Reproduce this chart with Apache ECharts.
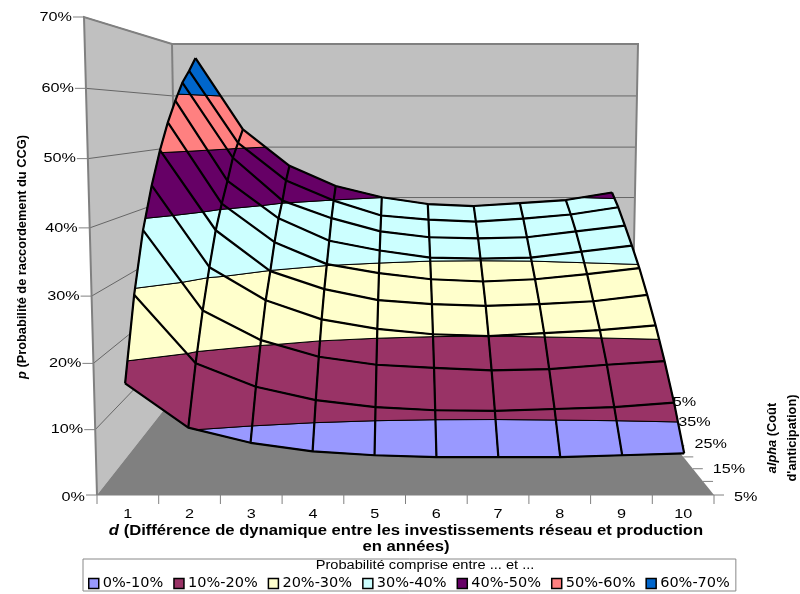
<!DOCTYPE html>
<html>
<head>
<meta charset="utf-8">
<script src="https://cdn.jsdelivr.net/npm/echarts@6/dist/echarts.min.js"></script>
<style>html,body{margin:0;padding:0;background:#fff}#c{width:800px;height:594px}</style>
</head>
<body>
<div id="c"></div>
<script>
// Categories
const dLabels = ['1','2','3','4','5','6','7','8','9','10'];
const alphaLabels = ['5%','15%','25%','35%','45%'];
const pTicks = [0,10,20,30,40,50,60,70];
const bandNames = ['0%-10%','10%-20%','20%-30%','30%-40%','40%-50%','50%-60%','60%-70%'];
const bandColors = ['#9999FF','#993366','#FFFFCC','#CCFFFF','#660066','#FF8080','#0066CC'];
// p (in %) for each alpha row, by d = 1..10
const p5  = [17.0,10.3, 8.0, 6.7, 6.1, 5.8, 5.8, 5.8, 6.1, 6.4];
const p10 = [29.1,18.5,14.8,12.7,11.6,11.1,11.0,11.3,11.6,12.3];
const p15 = [38.3,25.5,20.7,18.0,16.7,16.2,15.8,16.0,16.7,17.3];
const p20 = [44.9,31.5,26.0,22.8,21.2,20.3,20.0,20.5,21.0,21.8];
const p25 = [50.4,36.9,29.9,26.8,24.9,24.2,23.9,24.2,24.7,25.8];
const p30 = [55.0,40.9,34.1,30.2,28.6,27.5,27.1,27.5,28.4,29.5];
const p35 = [58.8,44.5,37.7,33.6,31.8,30.5,30.3,30.5,31.6,32.7];
const p40 = [62.2,48.4,40.4,37.1,34.6,33.5,33.3,33.5,34.6,35.7];
const p45 = [64.6,51.0,43.8,39.9,37.0,36.2,35.8,36.4,37.2,38.6];
const p50 = [67.3,53.5,46.3,42.3,40.05,38.7,38.3,38.9,39.5,41.0];
const rows = [p5,p10,p15,p20,p25,p30,p35,p40,p45,p50];

// Perspective view of the 3D box onto the drawing plane
const lerp = (a,b,t)=>a+(b-a)*t;
function project(u,v,p){
  const w=p/70, C=0.95, f=w*C/(1-w+w*C), D=1.37;
  const fx=lerp(97+617*u,84+643*u,f), fy=lerp(495,17,f);
  const bx=lerp(178+453*u,172+466*u,f), by=lerp(392,44,f);
  const a=1-v, b=v*D;
  return [(a*fx+b*bx)/(a+b),(a*fy+b*by)/(a+b)];
}
const nodeUV = (i,j)=>[(i+0.5)/10, j/9];

// Split each surface cell into colour bands
function clip(poly,level,keepAbove){
  const out=[];
  for(let k=0;k<poly.length;k++){
    const A=poly[k],B=poly[(k+1)%poly.length];
    const ina=keepAbove?A[2]>=level:A[2]<=level, inb=keepAbove?B[2]>=level:B[2]<=level;
    if(ina) out.push(A);
    if(ina!==inb){
      const t=(level-A[2])/(B[2]-A[2]);
      out.push([lerp(A[0],B[0],t),lerp(A[1],B[1],t),level]);
    }
  }
  return out;
}
function bandPolys(b){
  const res=[];
  for(let j=rows.length-2;j>=0;j--){
    for(let i=0;i<dLabels.length-1;i++){
      let poly=[[i,j,rows[j][i]],[i+1,j,rows[j][i+1]],[i+1,j+1,rows[j+1][i+1]],[i,j+1,rows[j+1][i]]];
      poly=clip(poly,b*10,true);
      if(poly.length) poly=clip(poly,(b+1)*10,false);
      if(poly.length>=3) res.push(poly);
    }
  }
  return res;
}
const toPx=(api,u,v,p)=>api.coord(project(u,v,p));

const bandSeries=bandNames.map((name,b)=>{
  const polys=bandPolys(b);
  return {
    name,type:'custom',coordinateSystem:'cartesian2d',silent:true,animation:false,z:3,
    itemStyle:{color:bandColors[b]},
    data:polys.map((_,k)=>[k,0]),
    renderItem(params,api){
      const pts=polys[params.dataIndex].map(q=>{
        const [u,v]=nodeUV(q[0],q[1]);
        return toPx(api,u,v,q[2]);
      });
      return {type:'polygon',shape:{points:pts},style:{fill:bandColors[b],stroke:'#000',lineWidth:1,lineJoin:'round'}};
    }
  };
});

const GRAY='#808080', LABEL='#000';
const wallSeries={
  type:'custom',coordinateSystem:'cartesian2d',silent:true,animation:false,z:2,
  data:[[0,0]],
  renderItem(params,api){
    const P=(u,v,p)=>toPx(api,u,v,p);
    const kids=[];
    const poly=(pts,fill)=>kids.push({type:'polygon',shape:{points:pts},style:{fill,stroke:'none'}});
    const line=(pts,c,lw)=>kids.push({type:'polyline',shape:{points:pts},style:{fill:'none',stroke:c,lineWidth:lw}});
    const text=(s,x,y,al)=>kids.push({type:'text',x,y,scaleX:1.2,style:{text:s,fill:LABEL,font:'13.5px "Liberation Sans"',align:al,verticalAlign:'middle',textAlign:al,textVerticalAlign:'middle'}});
    poly([P(0,0,0),P(0,0,70),P(0,1,70),P(0,1,0)],'#C0C0C0');
    poly([P(0,1,0),P(0,1,70),P(1,1,70),P(1,1,0)],'#C0C0C0');
    poly([P(0,0,0),P(1,0,0),P(1,1,0),P(0,1,0)],'#808080');
    // value gridlines on the walls
    pTicks.forEach(t=>{
      if(t>0) line([P(0,0,t),P(0,1,t),P(1,1,t)],'#666',1);
      const a=P(0,0,t);
      line([[a[0]-11,a[1]],a],GRAY,1);
      text(t+'%',a[0]-12,a[1]+(t==0?2:0),'right');
    });
    // box edges
    line([P(0,0,0),P(0,0,70),P(0,1,70),P(1,1,70),P(1,1,0)],GRAY,2);
    line([P(0,1,70),P(0,1,0)],GRAY,2);
    line([P(0,0,0),P(1,0,0)],GRAY,1);
    // d axis
    for(let k=0;k<=10;k++){
      const a=P(k/10,0,0);
      line([a,[a[0],a[1]+9]],GRAY,1);
    }
    dLabels.forEach((s,k)=>{
      const a=P((k+0.5)/10,0,0);
      text(s,a[0],514,'center');
    });
    // alpha axis
    for(let k=0;k<=10;k++){
      const a=P(1,k/10,0);
      line([a,[a[0]+10,a[1]]],GRAY,1);
    }
    alphaLabels.forEach((s,k)=>{
      const v=k*0.2, a=P(1,v,0);
      text(s,a[0]+20,a[1]+2-9*v,'left');
    });
    return {type:'group',children:kids};
  }
};

const meshSeries={
  type:'custom',coordinateSystem:'cartesian2d',silent:true,animation:false,z:4,
  data:[[0,0]],
  renderItem(params,api){
    const kids=[];
    const add=pts=>kids.push({type:'polyline',shape:{points:pts},style:{fill:'none',stroke:'#000',lineWidth:2.2,lineJoin:'round'}});
    rows.forEach((r,j)=>add(r.map((p,i)=>{const [u,v]=nodeUV(i,j);return toPx(api,u,v,p);})));
    dLabels.forEach((_,i)=>add(rows.map((r,j)=>{const [u,v]=nodeUV(i,j);return toPx(api,u,v,r[i]);})));
    return {type:'group',children:kids};
  }
};

const chart=echarts.init(document.getElementById('c'),null,{renderer:'canvas'});
const boldTitle='bold 14px "Liberation Sans"';
chart.setOption({
  animation:false,
  backgroundColor:'#fff',
  grid:{left:0,right:0,top:0,bottom:0},
  xAxis:{type:'value',min:0,max:800,show:false},
  yAxis:{type:'value',min:0,max:594,inverse:true,show:false},
  legend:{
    data:bandNames,left:83,top:559,orient:'horizontal',
    padding:[17,6,0,5],itemGap:10,itemWidth:10,itemHeight:10,
    borderColor:'#888',borderWidth:1,backgroundColor:'#fff',icon:'rect',
    itemStyle:{borderColor:'#000',borderWidth:1.5},
    textStyle:{fontFamily:'DejaVu Sans',fontSize:14.5,color:'#000',padding:[0,0,0,-1]}
  },
  graphic:{elements:[
    {type:'text',x:425,y:566,z:10,scaleX:1.17,style:{text:'Probabilité comprise entre ... et ...',fill:'#000',font:'12.5px "Liberation Sans"',align:'center',verticalAlign:'middle'}},
    {type:'text',x:406,y:531,z:10,scaleX:1.188,style:{text:'{i|d} (Différence de dynamique entre les investissements réseau et production',rich:{i:{font:'italic bold 14px "Liberation Sans"',fill:'#000'}},fill:'#000',font:boldTitle,align:'center',verticalAlign:'middle'}},
    {type:'text',x:406,y:547,z:10,scaleX:1.188,style:{text:'en années)',fill:'#000',font:boldTitle,align:'center',verticalAlign:'middle'}},
    {type:'text',x:22,y:257,z:10,rotation:Math.PI/2,style:{text:'{i|p} (Probabilité de raccordement du CCG)',rich:{i:{font:'italic bold 12.8px "Liberation Sans"',fill:'#000'}},fill:'#000',font:'bold 12.8px "Liberation Sans"',align:'center',verticalAlign:'middle'}},
    {type:'text',x:772,y:438,z:10,rotation:Math.PI/2,style:{text:'{i|alpha} (Coût',rich:{i:{font:'italic bold 12.8px "Liberation Sans"',fill:'#000'}},fill:'#000',font:'bold 12.8px "Liberation Sans"',align:'center',verticalAlign:'middle'}},
    {type:'text',x:792,y:438,z:10,rotation:Math.PI/2,style:{text:"d'anticipation)",fill:'#000',font:'bold 12.8px "Liberation Sans"',align:'center',verticalAlign:'middle'}}
  ]},
  series:[wallSeries].concat(bandSeries,[meshSeries])
});
</script>
</body>
</html>
